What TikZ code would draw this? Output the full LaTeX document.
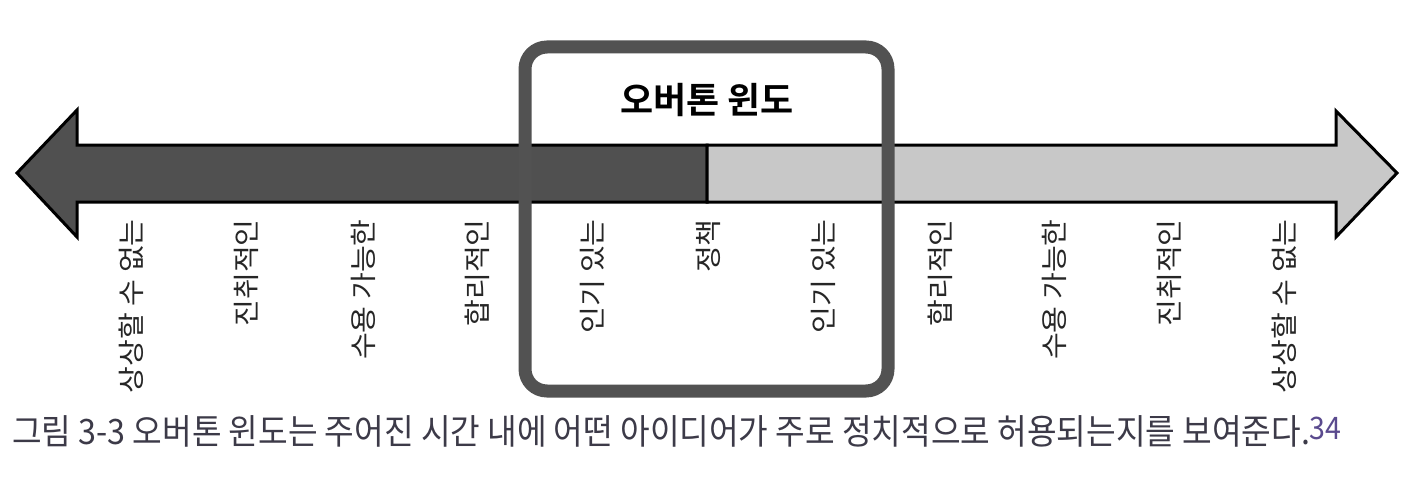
\documentclass[tikz,border=0pt]{standalone}
\usepackage{fontspec}
\setmainfont{Noto Sans CJK KR}
\newfontfamily\krbold{Noto Sans CJK KR Bold}
\newfontfamily\capfont[FakeStretch=0.92]{Noto Sans CJK KR}
\newfontfamily\labfont[FakeStretch=1.08]{Noto Sans CJK KR}
\definecolor{darkfill}{HTML}{505050}
\definecolor{lightfill}{HTML}{C8C8C8}
\definecolor{boxgray}{HTML}{525252}
\definecolor{captext}{HTML}{3C3A48}
\definecolor{notepurple}{HTML}{5A4A8E}
\begin{document}
\begin{tikzpicture}[x=1pt,y=-1pt,
  arrowpart/.style={draw=black,line width=3pt,line join=miter},
  windowbox/.style={draw=boxgray,line width=13pt,rounded corners=22pt},
  vlabel/.style={rotate=90,anchor=east,inner sep=0pt,font=\labfont\fontsize{27}{27}\selectfont,text=black!85},
  titletext/.style={inner sep=0pt,font=\krbold\fontsize{36}{36}\selectfont},
  captiontext/.style={anchor=base west,inner sep=0pt,text=captext,font=\capfont\fontsize{35}{35}\selectfont}]
\useasboundingbox[fill=white] (0,0) rectangle (1426,492);
% arrow halves
\draw[arrowpart,fill=darkfill] (17,173) -- (77,110) -- (77,145) -- (707,145) -- (707,202) -- (77,202) -- (77,237) -- cycle;
\draw[arrowpart,fill=lightfill] (707,145) -- (1336,145) -- (1336,111) -- (1397,173) -- (1336,237) -- (1336,202) -- (707,202) -- cycle;
% window
\draw[windowbox] (525,47) rectangle (888,391);
\node[titletext] (title) at (707,100) {오버톤 윈도};
% labels
\node[vlabel] (l1) at (131,219) {상상할 수 없는};
\node[vlabel] (l2) at (246,219) {진취적인};
\node[vlabel] (l3) at (363,219) {수용 가능한};
\node[vlabel] (l4) at (477,219) {합리적인};
\node[vlabel] (l5) at (592,219) {인기 있는};
\node[vlabel] (l6) at (708,219) {정책};
\node[vlabel] (l7) at (823,219) {인기 있는};
\node[vlabel] (l8) at (940,219) {합리적인};
\node[vlabel] (l9) at (1054,219) {수용 가능한};
\node[vlabel] (l10) at (1169,219) {진취적인};
\node[vlabel] (l11) at (1284,219) {상상할 수 없는};
% caption
\node[captiontext] (cap) at (12,444) {그림 3-3 오버톤 윈도는 주어진 시간 내에 어떤 아이디어가 주로 정치적으로 허용되는지를 보여준다.\raisebox{5pt}{\textcolor{notepurple}{\fontsize{31}{31}\selectfont 34}}};
\end{tikzpicture}
\end{document}
